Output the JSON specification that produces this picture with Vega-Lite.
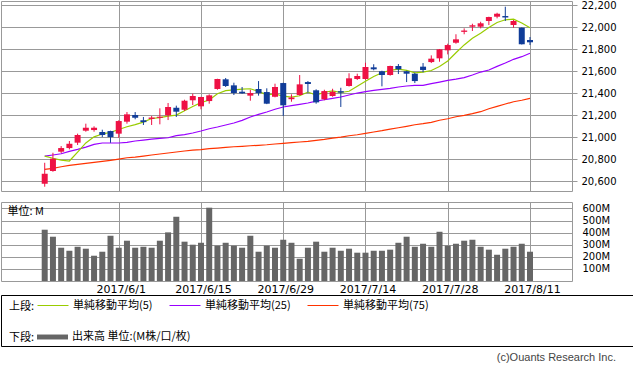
{
  "$schema": "https://vega.github.io/schema/vega-lite/v6.json",
  "padding": {"left": 0, "top": -1, "right": 0, "bottom": 0},
  "background": "white",
  "config": {
    "view": {"stroke": "#999999", "strokeWidth": 1},
    "axis": {"gridColor": "#999999", "gridWidth": 1, "gridOpacity": 1, "labelFont": "DejaVu Sans", "labelColor": "#000000", "domain": false, "labelFlush": false, "labelOverlap": false, "tickColor": "#999999"},
    "legend": {"labelFont": "Noto Sans CJK JP", "labelFontSize": 11, "labelColor": "#000000", "titleFont": "Noto Sans CJK JP", "titleFontSize": 11, "titleFontWeight": "normal", "titleColor": "#000000", "titleOrient": "left", "titleAnchor": "middle", "titleBaseline": "top", "titlePadding": 2, "padding": 0, "labelOffset": 4, "symbolSize": 961, "direction": "horizontal", "orient": "none"},
    "title": {"fontWeight": "normal", "color": "#000000"}
  },
  "datasets": {
    "d": [
      {"i":0,"date":"2017/5/18","o":20575,"h":20766,"l":20548,"c":20666,"ma5":20826,"ma25":20827,"ma75":20706,"v":424},
      {"i":1,"date":"2017/5/19","o":20691,"h":20857,"l":20684,"c":20803,"ma5":20807,"ma25":20837,"ma75":20715,"v":366},
      {"i":2,"date":"2017/5/22","o":20867,"h":20918,"l":20855,"c":20900,"ma5":20790,"ma25":20848,"ma75":20730,"v":275},
      {"i":3,"date":"2017/5/23","o":20900,"h":20964,"l":20888,"c":20939,"ma5":20782,"ma25":20870,"ma75":20743,"v":250},
      {"i":4,"date":"2017/5/24","o":20949,"h":21031,"l":20928,"c":21019,"ma5":20863,"ma25":20888,"ma75":20752,"v":283},
      {"i":5,"date":"2017/5/25","o":21058,"h":21122,"l":21049,"c":21085,"ma5":20947,"ma25":20909,"ma75":20761,"v":267},
      {"i":6,"date":"2017/5/26","o":21064,"h":21098,"l":21049,"c":21085,"ma5":21002,"ma25":20934,"ma75":20770,"v":209},
      {"i":7,"date":"2017/5/30","o":21046,"h":21067,"l":21000,"c":21019,"ma5":21028,"ma25":20946,"ma75":20779,"v":242},
      {"i":8,"date":"2017/5/31","o":21055,"h":21058,"l":20948,"c":21000,"ma5":21043,"ma25":20946,"ma75":20788,"v":374},
      {"i":9,"date":"2017/6/1","o":21031,"h":21153,"l":20994,"c":21146,"ma5":21069,"ma25":20946,"ma75":20800,"v":275},
      {"i":10,"date":"2017/6/2","o":21140,"h":21228,"l":21122,"c":21207,"ma5":21094,"ma25":20952,"ma75":20812,"v":333},
      {"i":11,"date":"2017/6/5","o":21201,"h":21228,"l":21162,"c":21176,"ma5":21114,"ma25":20964,"ma75":20818,"v":275},
      {"i":12,"date":"2017/6/6","o":21153,"h":21183,"l":21110,"c":21136,"ma5":21136,"ma25":20973,"ma75":20827,"v":283},
      {"i":13,"date":"2017/6/7","o":21165,"h":21192,"l":21110,"c":21178,"ma5":21169,"ma25":20982,"ma75":20837,"v":275},
      {"i":14,"date":"2017/6/8","o":21175,"h":21262,"l":21116,"c":21185,"ma5":21177,"ma25":20989,"ma75":20846,"v":333},
      {"i":15,"date":"2017/6/9","o":21198,"h":21310,"l":21155,"c":21274,"ma5":21190,"ma25":20994,"ma75":20855,"v":402},
      {"i":16,"date":"2017/6/12","o":21267,"h":21286,"l":21183,"c":21231,"ma5":21200,"ma25":21013,"ma75":20864,"v":531},
      {"i":17,"date":"2017/6/13","o":21249,"h":21340,"l":21237,"c":21331,"ma5":21239,"ma25":21023,"ma75":20873,"v":325},
      {"i":18,"date":"2017/6/14","o":21335,"h":21395,"l":21292,"c":21374,"ma5":21279,"ma25":21037,"ma75":20882,"v":300},
      {"i":19,"date":"2017/6/15","o":21280,"h":21367,"l":21253,"c":21365,"ma5":21314,"ma25":21055,"ma75":20885,"v":316},
      {"i":20,"date":"2017/6/16","o":21328,"h":21389,"l":21304,"c":21380,"ma5":21337,"ma25":21076,"ma75":20894,"v":606},
      {"i":21,"date":"2017/6/19","o":21438,"h":21531,"l":21431,"c":21529,"ma5":21395,"ma25":21092,"ma75":20900,"v":292},
      {"i":22,"date":"2017/6/20","o":21526,"h":21538,"l":21456,"c":21465,"ma5":21423,"ma25":21110,"ma75":20907,"v":316},
      {"i":23,"date":"2017/6/21","o":21471,"h":21495,"l":21383,"c":21401,"ma5":21430,"ma25":21128,"ma75":20912,"v":292},
      {"i":24,"date":"2017/6/22","o":21413,"h":21456,"l":21395,"c":21398,"ma5":21437,"ma25":21152,"ma75":20916,"v":275},
      {"i":25,"date":"2017/6/23","o":21377,"h":21431,"l":21331,"c":21401,"ma5":21440,"ma25":21183,"ma75":20921,"v":374},
      {"i":26,"date":"2017/6/26","o":21438,"h":21510,"l":21377,"c":21401,"ma5":21416,"ma25":21207,"ma75":20925,"v":242},
      {"i":27,"date":"2017/6/27","o":21410,"h":21444,"l":21300,"c":21304,"ma5":21385,"ma25":21228,"ma75":20930,"v":292},
      {"i":28,"date":"2017/6/28","o":21367,"h":21486,"l":21362,"c":21456,"ma5":21394,"ma25":21253,"ma75":20937,"v":275},
      {"i":29,"date":"2017/6/29","o":21492,"h":21495,"l":21192,"c":21289,"ma5":21372,"ma25":21274,"ma75":20943,"v":341},
      {"i":30,"date":"2017/6/30","o":21345,"h":21389,"l":21322,"c":21360,"ma5":21363,"ma25":21286,"ma75":20949,"v":316},
      {"i":31,"date":"2017/7/3","o":21383,"h":21565,"l":21377,"c":21480,"ma5":21376,"ma25":21298,"ma75":20955,"v":184},
      {"i":32,"date":"2017/7/5","o":21501,"h":21510,"l":21404,"c":21483,"ma5":21410,"ma25":21310,"ma75":20961,"v":275},
      {"i":33,"date":"2017/7/6","o":21426,"h":21435,"l":21304,"c":21316,"ma5":21383,"ma25":21328,"ma75":20970,"v":325},
      {"i":34,"date":"2017/7/7","o":21344,"h":21431,"l":21335,"c":21419,"ma5":21408,"ma25":21340,"ma75":20979,"v":242},
      {"i":35,"date":"2017/7/10","o":21374,"h":21440,"l":21367,"c":21413,"ma5":21420,"ma25":21353,"ma75":20991,"v":275},
      {"i":36,"date":"2017/7/11","o":21418,"h":21449,"l":21274,"c":21405,"ma5":21406,"ma25":21365,"ma75":21000,"v":250},
      {"i":37,"date":"2017/7/12","o":21465,"h":21581,"l":21460,"c":21535,"ma5":21417,"ma25":21383,"ma75":21012,"v":267},
      {"i":38,"date":"2017/7/13","o":21529,"h":21577,"l":21520,"c":21556,"ma5":21463,"ma25":21401,"ma75":21021,"v":234},
      {"i":39,"date":"2017/7/14","o":21529,"h":21677,"l":21522,"c":21638,"ma5":21508,"ma25":21413,"ma75":21034,"v":234},
      {"i":40,"date":"2017/7/17","o":21635,"h":21663,"l":21608,"c":21617,"ma5":21552,"ma25":21426,"ma75":21046,"v":250},
      {"i":41,"date":"2017/7/18","o":21599,"h":21604,"l":21462,"c":21565,"ma5":21586,"ma25":21435,"ma75":21058,"v":250},
      {"i":42,"date":"2017/7/19","o":21565,"h":21650,"l":21559,"c":21647,"ma5":21607,"ma25":21444,"ma75":21073,"v":259},
      {"i":43,"date":"2017/7/20","o":21647,"h":21665,"l":21574,"c":21617,"ma5":21619,"ma25":21456,"ma75":21085,"v":316},
      {"i":44,"date":"2017/7/21","o":21599,"h":21604,"l":21501,"c":21577,"ma5":21608,"ma25":21465,"ma75":21098,"v":366},
      {"i":45,"date":"2017/7/24","o":21577,"h":21586,"l":21492,"c":21510,"ma5":21584,"ma25":21471,"ma75":21112,"v":283},
      {"i":46,"date":"2017/7/25","o":21641,"h":21674,"l":21590,"c":21611,"ma5":21592,"ma25":21471,"ma75":21122,"v":308},
      {"i":47,"date":"2017/7/26","o":21683,"h":21744,"l":21674,"c":21714,"ma5":21606,"ma25":21486,"ma75":21134,"v":283},
      {"i":48,"date":"2017/7/27","o":21717,"h":21802,"l":21686,"c":21799,"ma5":21643,"ma25":21501,"ma75":21153,"v":407},
      {"i":49,"date":"2017/7/28","o":21790,"h":21850,"l":21753,"c":21838,"ma5":21693,"ma25":21517,"ma75":21167,"v":292},
      {"i":50,"date":"2017/7/31","o":21859,"h":21936,"l":21850,"c":21890,"ma5":21768,"ma25":21528,"ma75":21185,"v":308},
      {"i":51,"date":"2017/8/1","o":21958,"h":21990,"l":21936,"c":21970,"ma5":21839,"ma25":21541,"ma75":21198,"v":333},
      {"i":52,"date":"2017/8/2","o":22005,"h":22032,"l":21966,"c":22018,"ma5":21900,"ma25":21565,"ma75":21213,"v":341},
      {"i":53,"date":"2017/8/3","o":22005,"h":22050,"l":21990,"c":22036,"ma5":21945,"ma25":21592,"ma75":21231,"v":283},
      {"i":54,"date":"2017/8/4","o":22057,"h":22096,"l":22020,"c":22093,"ma5":21998,"ma25":21611,"ma75":21258,"v":259},
      {"i":55,"date":"2017/8/7","o":22096,"h":22132,"l":22081,"c":22123,"ma5":22043,"ma25":21644,"ma75":21280,"v":217},
      {"i":56,"date":"2017/8/8","o":22102,"h":22187,"l":22057,"c":22089,"ma5":22068,"ma25":21674,"ma75":21301,"v":267},
      {"i":57,"date":"2017/8/9","o":22020,"h":22066,"l":21996,"c":22057,"ma5":22074,"ma25":21708,"ma75":21322,"v":283},
      {"i":58,"date":"2017/8/10","o":21996,"h":21998,"l":21843,"c":21845,"ma5":22038,"ma25":21732,"ma75":21335,"v":308},
      {"i":59,"date":"2017/8/11","o":21884,"h":21911,"l":21838,"c":21863,"ma5":21995,"ma25":21763,"ma75":21353,"v":242}
    ]
  },
  "spacing": -2,
  "vconcat": [
    {
      "spacing": 9,
      "vconcat": [
        {
          "width": 571,
          "height": 190,
          "data": {"name": "d"},
          "encoding": {
            "x": {"field": "i", "type": "quantitative", "scale": {"domain": [-4.706, 63.5], "nice": false, "zero": false},
                  "axis": {"title": null, "values": [9, 19, 29, 39, 49, 59], "labels": false, "ticks": false, "grid": true}}
          },
          "layer": [
            {"mark": {"type": "line", "strokeWidth": 1.2},
             "encoding": {"y": {"field": "ma75", "type": "quantitative", "scale": {"domain": [20509, 22239], "nice": false, "zero": false},
                                "axis": {"title": null, "orient": "right", "values": [20600, 20800, 21000, 21200, 21400, 21600, 21800, 22000, 22200], "format": ",d", "labelOverlap": false, "grid": true, "ticks": true, "tickSize": 5, "labelPadding": 4, "labelFontSize": 10}},
                          "stroke": {"datum": "単純移動平均(75)", "type": "nominal",
                                     "scale": {"domain": ["単純移動平均(5)", "単純移動平均(25)", "単純移動平均(75)"], "range": ["#99cc00", "#9900ff", "#ff3300"]},
                                     "legend": {"title": "上段:", "legendX": 8, "legendY": 288.5, "symbolType": "stroke", "symbolStrokeWidth": 1, "columnPadding": 14}}}},
            {"mark": {"type": "line", "strokeWidth": 1.2},
             "encoding": {"y": {"field": "ma25", "type": "quantitative",
                                "axis": {"title": null, "orient": "right", "values": [20600, 20800, 21000, 21200, 21400, 21600, 21800, 22000, 22200], "format": ",d", "labelOverlap": false, "grid": true, "ticks": true, "tickSize": 5, "labelPadding": 4, "labelFontSize": 10}},
                          "stroke": {"datum": "単純移動平均(25)", "type": "nominal"}}},
            {"mark": {"type": "line", "strokeWidth": 1.2},
             "encoding": {"y": {"field": "ma5", "type": "quantitative",
                                "axis": {"title": null, "orient": "right", "values": [20600, 20800, 21000, 21200, 21400, 21600, 21800, 22000, 22200], "format": ",d", "labelOverlap": false, "grid": true, "ticks": true, "tickSize": 5, "labelPadding": 4, "labelFontSize": 10}},
                          "stroke": {"datum": "単純移動平均(5)", "type": "nominal"}}},
            {"mark": {"type": "rule", "strokeWidth": 1},
             "encoding": {"y": {"field": "l", "type": "quantitative",
                                "axis": {"title": null, "orient": "right", "values": [20600, 20800, 21000, 21200, 21400, 21600, 21800, 22000, 22200], "format": ",d", "labelOverlap": false, "grid": true, "ticks": true, "tickSize": 5, "labelPadding": 4, "labelFontSize": 10}},
                          "y2": {"field": "h"},
                          "color": {"condition": {"test": "datum.c >= datum.o", "value": "#ee1144"}, "value": "#103c98"}}},
            {"mark": {"type": "bar", "size": 6},
             "encoding": {"y": {"field": "o", "type": "quantitative",
                                "axis": {"title": null, "orient": "right", "values": [20600, 20800, 21000, 21200, 21400, 21600, 21800, 22000, 22200], "format": ",d", "labelOverlap": false, "grid": true, "ticks": true, "tickSize": 5, "labelPadding": 4, "labelFontSize": 10}},
                          "y2": {"field": "c"},
                          "color": {"condition": {"test": "datum.c >= datum.o", "value": "#ee1144"}, "value": "#103c98"}}}
          ]
        },
        {
          "width": 571,
          "height": 79,
          "data": {"name": "d"},
          "mark": {"type": "bar", "size": 6},
          "encoding": {
            "x": {"field": "i", "type": "quantitative", "scale": {"domain": [-4.706, 63.5], "nice": false, "zero": false},
                  "axis": {"title": null, "values": [9, 19, 29, 39, 49, 59], "grid": true, "ticks": true, "tickSize": 0, "labelPadding": 2, "labelFontSize": 11, "labelOffset": 2,
                           "labelExpr": "datum.value == 9 ? '2017/6/1' : datum.value == 19 ? '2017/6/15' : datum.value == 29 ? '2017/6/29' : datum.value == 39 ? '2017/7/14' : datum.value == 49 ? '2017/7/28' : '2017/8/11'"}},
            "y": {"field": "v", "type": "quantitative", "scale": {"domain": [0, 653], "nice": false},
                  "axis": {"orient": "right", "values": [100, 200, 300, 400, 500, 600], "labelExpr": "datum.value + 'M'", "grid": true, "ticks": true, "tickSize": 0, "labelPadding": 10, "labelFontSize": 10,
                           "title": "単位: M", "titleAngle": 0, "titleX": -565, "titleY": 9, "titleAlign": "left", "titleBaseline": "middle", "titleFont": "Noto Sans CJK JP", "titleFontSize": 11, "titleFontWeight": "normal", "titleColor": "#000000"}},
            "fill": {"datum": "出来高 単位:(M株/口/枚)", "type": "nominal", "scale": {"range": ["#666666"]},
                     "legend": {"title": "下段:", "legendX": 8, "legendY": 320.5, "symbolType": "M-1,-0.16H1V0.16H-1Z", "symbolStrokeWidth": 0}}
          }
        }
      ]
    },
    {
      "width": 632,
      "height": 51,
      "view": {"stroke": "#000000"},
      "title": {"text": "(c)Ouants Research Inc.", "orient": "bottom", "anchor": "end", "offset": 6, "dx": -17, "font": "Liberation Sans", "fontSize": 11, "fontWeight": "normal", "color": "#444444"},
      "data": {"values": [{"t": ""}]},
      "mark": {"type": "text"},
      "encoding": {"text": {"field": "t"}}
    }
  ]
}
